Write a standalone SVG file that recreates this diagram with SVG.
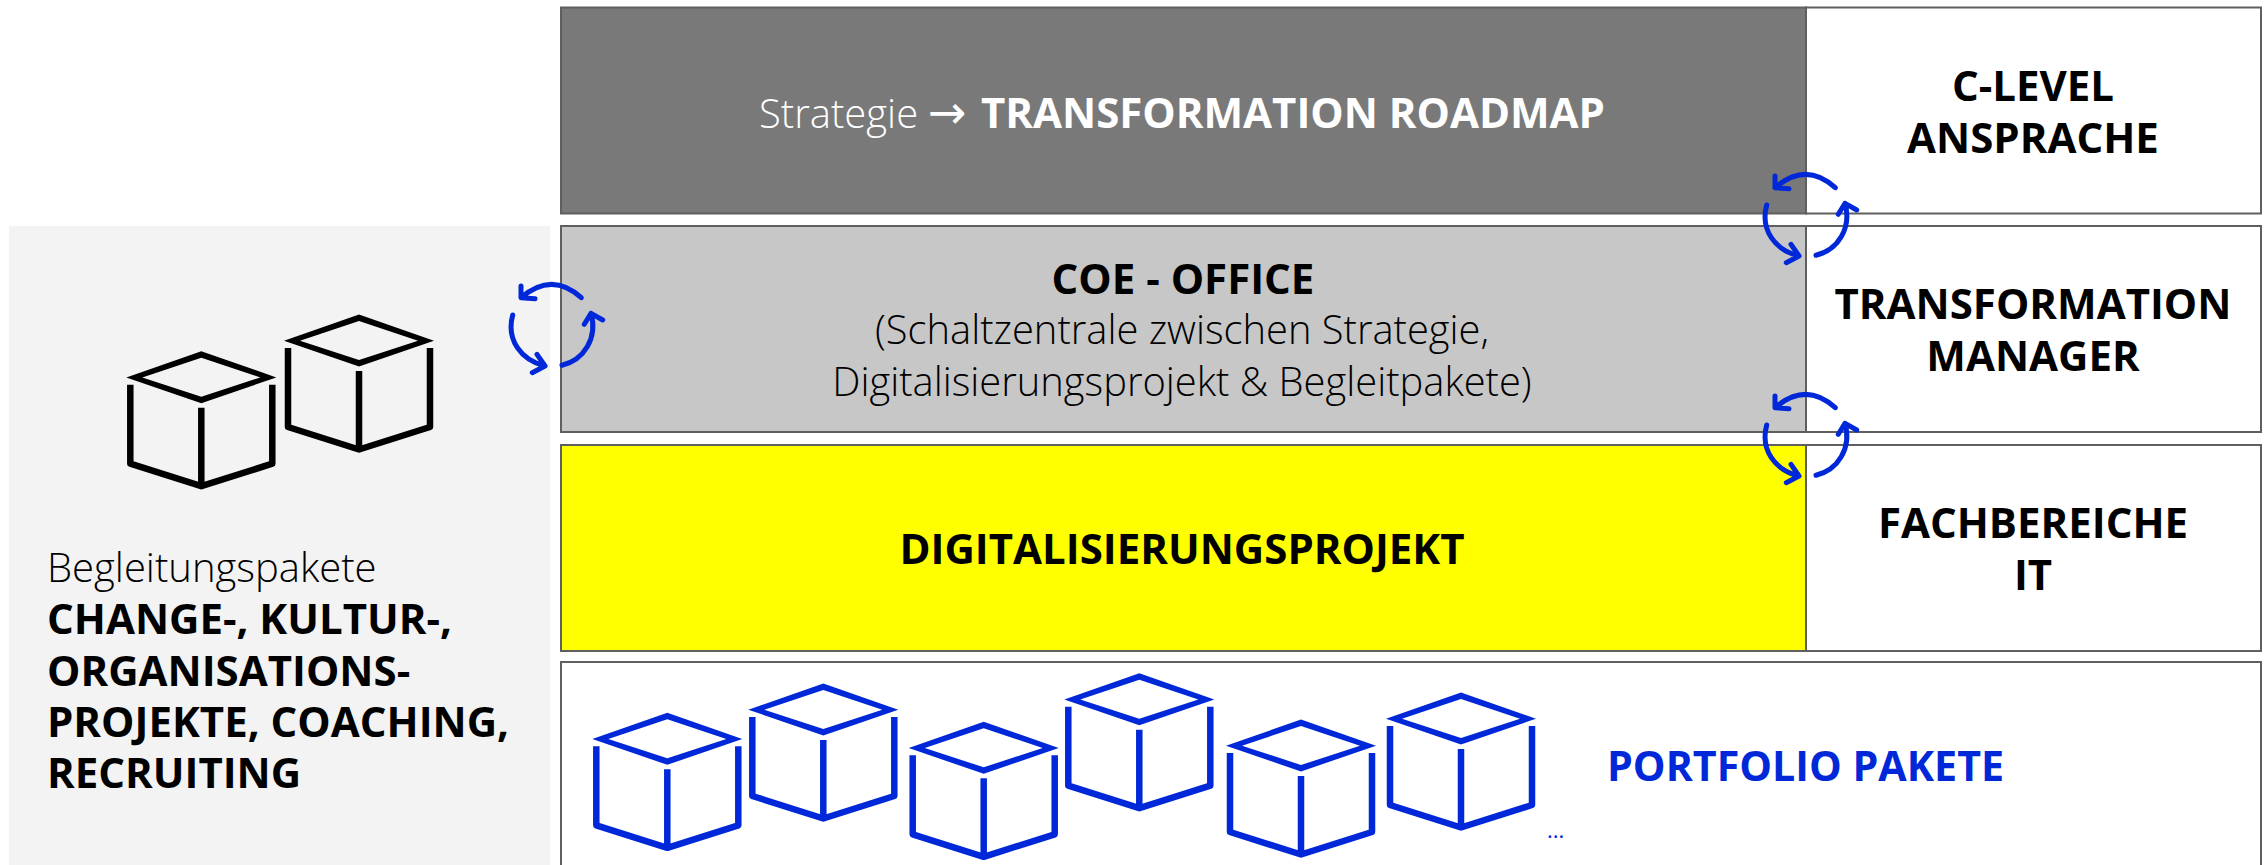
<svg xmlns="http://www.w3.org/2000/svg" xmlns:xlink="http://www.w3.org/1999/xlink" width="2267" height="865" viewBox="0 0 2267 865">
<style>
text{font-family:"Open Sans","Liberation Sans",sans-serif;font-size:40px;fill:#000}
.l{font-weight:300}
.b{font-weight:700;font-size:42px}
.m{text-anchor:middle}
.box{stroke:#5f5f5f;stroke-width:2}
.arc{fill:none;stroke:#0028d8;stroke-width:5;stroke-linecap:round;stroke-linejoin:round}
.cb{stroke:#0028d8;fill:#0028d8}
.ck{stroke:#000;fill:#000}
.cube .d{fill-rule:evenodd;stroke:none}
.cube .s{fill:none;stroke-width:6.5;stroke-linejoin:round}
</style>
<defs>
<g id="cube" class="cube">
<path class="d" d="M0,-0.500L75,25.700L0,51.500L-75,25.700ZM0,6L-59,25.700L0,45L59,25.700Z"/>
<path class="s" d="M-71,33V112L0,134.500L71,112V33M0,56V135"/>
</g>
<g id="cycle" class="arc">
<path d="M1835.3,187.7Q1806,161 1775,187.7M1775,176V187.7L1789,188.700"/>
<path d="M1766.7,205C1760,230 1775,250 1799,256M1791,244.3L1799,256L1786.3,262.700"/>
<path d="M1816,255.3C1838,250 1852,228 1845,203.3M1838.3,214.3L1845,203.3L1856.7,210"/>
</g>
</defs>
<rect id="panel" x="9" y="226" width="541" height="639" fill="#f3f3f3"/>
<g id="strategy"><rect class="box" x="561" y="7.500" width="1245" height="206" fill="#797979"/>
<text y="128" class="l" style="fill:#fff"><tspan x="759">Strategie</tspan><tspan x="928" style="font-family:'DejaVu Sans',sans-serif;font-weight:400;font-size:46px">→</tspan><tspan x="981" class="b">TRANSFORMATION ROADMAP</tspan></text></g>
<g id="clevel"><rect class="box" x="1806" y="7.500" width="455" height="206" fill="#fff"/>
<text x="2033" y="101" class="b m">C-LEVEL</text><text x="2033" y="153" class="b m">ANSPRACHE</text></g>
<g id="coe"><rect class="box" x="561" y="226" width="1245" height="206" fill="#c7c7c7"/>
<text x="1183" y="294" class="b m">COE - OFFICE</text>
<text x="1182" y="344" class="l m" style="font-size:39.900px">(Schaltzentrale zwischen Strategie,</text>
<text x="1182" y="396" class="l m" style="font-size:39.900px">Digitalisierungsprojekt &amp; Begleitpakete)</text></g>
<g id="tm"><rect class="box" x="1806" y="226" width="455" height="206" fill="#fff"/>
<text x="2033" y="319" class="b m">TRANSFORMATION</text><text x="2033" y="371" class="b m">MANAGER</text></g>
<g id="dig"><rect class="box" x="561" y="445" width="1245" height="206" fill="#ff0"/>
<text x="1182" y="564" class="b m">DIGITALISIERUNGSPROJEKT</text></g>
<g id="fach"><rect class="box" x="1806" y="445" width="455" height="206" fill="#fff"/>
<text x="2033" y="538" class="b m">FACHBEREICHE</text><text x="2033" y="590" class="b m">IT</text></g>
<g id="portfolio"><rect class="box" x="561" y="662" width="1700" height="210" fill="#fff"/>
<use xlink:href="#cube" href="#cube" class="cb" transform="translate(667.3,713.3)"/>
<use xlink:href="#cube" href="#cube" class="cb" transform="translate(823.3,684)"/>
<use xlink:href="#cube" href="#cube" class="cb" transform="translate(983.7,722.3)"/>
<use xlink:href="#cube" href="#cube" class="cb" transform="translate(1139.3,673.7)"/>
<use xlink:href="#cube" href="#cube" class="cb" transform="translate(1301,720)"/>
<use xlink:href="#cube" href="#cube" class="cb" transform="translate(1461,693)"/>
<text x="1547" y="838" style="font-size:22px;fill:#0028d8">...</text>
<text x="1607" y="781" class="b" style="fill:#0028d8;font-size:41.200px">PORTFOLIO PAKETE</text></g>
<g id="beg">
<use xlink:href="#cube" href="#cube" class="ck" transform="translate(201.3,351.700)"/>
<use xlink:href="#cube" href="#cube" class="ck" transform="translate(359,315)"/>
<text x="47" y="582" class="l">Begleitungspakete</text>
<text x="47" y="634" class="b">CHANGE-, KULTUR-,</text>
<text x="47" y="686" class="b">ORGANISATIONS-</text>
<text x="47" y="737" class="b">PROJEKTE, COACHING,</text>
<text x="47" y="788" class="b">RECRUITING</text></g>
<g id="connectors">
<use xlink:href="#cycle" href="#cycle"/>
<use xlink:href="#cycle" href="#cycle" transform="translate(0,220)"/>
<use xlink:href="#cycle" href="#cycle" transform="translate(-1254,110)"/>
</g>
</svg>
